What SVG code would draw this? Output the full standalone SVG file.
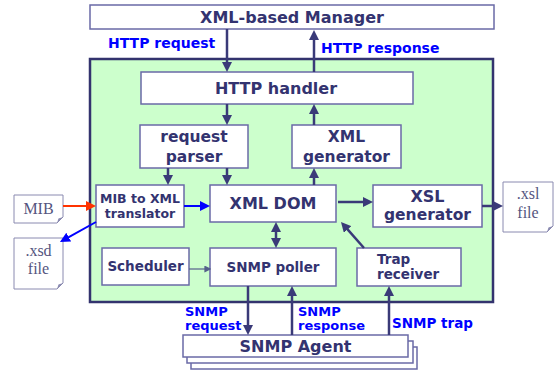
<svg xmlns="http://www.w3.org/2000/svg" width="555" height="370" viewBox="0 0 555 370">
<style>
  .box{fill:#ffffff;stroke:#6a6aa6;stroke-width:1.5}
  .t{font-family:"DejaVu Sans","Liberation Sans",sans-serif;font-weight:bold;fill:#333370;text-anchor:middle}
  .ts{font-family:"DejaVu Sans","Liberation Sans",sans-serif;font-weight:bold;fill:#333370;text-anchor:start}
  .lbl{font-family:"DejaVu Sans","Liberation Sans",sans-serif;font-weight:bold;fill:#0000ff}
  .file{fill:#ffffff;stroke:#8a8ab0;stroke-width:1}
  .ft{font-family:"Liberation Serif","DejaVu Serif",serif;font-size:16px;fill:#555580;text-anchor:middle}
  .a{stroke:#3a3a78;stroke-width:2.5;fill:none;marker-end:url(#ah)}
</style>
<defs>
  <marker id="ah" viewBox="0 0 10 10" markerUnits="userSpaceOnUse" markerWidth="10" markerHeight="10" refX="3" refY="5" orient="auto-start-reverse">
    <path d="M0,0 L10,5 L0,10 z" fill="#3a3a78"/>
  </marker>
  <marker id="ahs" viewBox="0 0 10 10" markerUnits="userSpaceOnUse" markerWidth="7" markerHeight="7" refX="8" refY="5" orient="auto">
    <path d="M0,0 L10,5 L0,10 z" fill="#55608a"/>
  </marker>
  <marker id="ahb" viewBox="0 0 10 10" markerUnits="userSpaceOnUse" markerWidth="10" markerHeight="10" refX="3" refY="5" orient="auto">
    <path d="M0,0 L10,5 L0,10 z" fill="#0000ff"/>
  </marker>
  <marker id="ahr" viewBox="0 0 10 10" markerUnits="userSpaceOnUse" markerWidth="10" markerHeight="10" refX="3" refY="5" orient="auto">
    <path d="M0,0 L10,5 L0,10 z" fill="#ff3300"/>
  </marker>
</defs>

<rect width="555" height="370" fill="#ffffff"/>

<g id="system">
  <rect x="90" y="59" width="403" height="243" fill="#ccffcc" stroke="#33336e" stroke-width="2.5"/>
</g>

<g id="manager">
  <rect class="box" x="90" y="5" width="404" height="24" stroke="#8a8ab0"/>
  <text class="t" x="292" y="23" font-size="16">XML-based Manager</text>
</g>

<g id="http-handler">
  <rect class="box" x="141" y="72" width="272" height="32"/>
  <text class="t" x="276" y="94" font-size="16">HTTP handler</text>
</g>

<g id="request-parser">
  <rect class="box" x="140" y="125" width="108" height="43"/>
  <text class="t" x="194" y="142" font-size="15.5">request</text>
  <text class="t" x="194" y="162" font-size="15.5">parser</text>
</g>

<g id="xml-generator">
  <rect class="box" x="292" y="125" width="109" height="43"/>
  <text class="t" x="346.5" y="142" font-size="15.5">XML</text>
  <text class="t" x="346.5" y="162" font-size="15.5">generator</text>
</g>

<g id="mib-translator">
  <rect class="box" x="96" y="185" width="88" height="42" fill="#fccac2"/>
  <text class="t" x="140" y="203" font-size="12.5">MIB to XML</text>
  <text class="t" x="140" y="218" font-size="12.5">translator</text>
</g>

<g id="xml-dom">
  <rect class="box" x="210" y="185" width="126" height="37" fill="#fcc8fc"/>
  <text class="t" x="273" y="208.5" font-size="16">XML DOM</text>
</g>

<g id="xsl-generator">
  <rect class="box" x="373" y="185" width="109" height="42"/>
  <text class="t" x="427.5" y="201.5" font-size="16">XSL</text>
  <text class="t" x="427.5" y="220" font-size="15.5">generator</text>
</g>

<g id="scheduler">
  <rect class="box" x="102" y="248" width="87" height="37"/>
  <text class="t" x="145.5" y="271" font-size="13.5">Scheduler</text>
</g>

<g id="snmp-poller">
  <rect class="box" x="210" y="248" width="126" height="38"/>
  <text class="t" x="273" y="272" font-size="13.5">SNMP poller</text>
</g>

<g id="trap-receiver">
  <rect class="box" x="357" y="248" width="104" height="38"/>
  <text class="ts" x="377" y="264" font-size="13.5">Trap</text>
  <text class="ts" x="377" y="279" font-size="13.5">receiver</text>
</g>

<g id="snmp-agent">
  <rect class="box" x="191" y="347" width="226" height="22"/>
  <rect class="box" x="187" y="341" width="226" height="22"/>
  <rect class="box" x="183" y="335" width="225" height="22"/>
  <text class="t" x="295.5" y="352" font-size="16">SNMP Agent</text>
</g>

<g id="mib-file">
  <path class="file" d="M14,195 H63 V217 L57,223 H14 Z"/>
  <path d="M57,223 L58.5,218.5 L63,217 Z" fill="#8a8ab0"/>
  <text class="ft" x="38.5" y="214">MIB</text>
</g>

<g id="xsd-file">
  <path class="file" d="M14,238 H63 V283 L57,289 H14 Z"/>
  <path d="M57,289 L58.5,284.5 L63,283 Z" fill="#8a8ab0"/>
  <text class="ft" x="38.5" y="256">.xsd</text>
  <text class="ft" x="38.5" y="274">file</text>
</g>

<g id="xsl-file">
  <path class="file" d="M503,182 H553 V226 L547,232 H503 Z"/>
  <path d="M547,232 L548.5,227.5 L553,226 Z" fill="#8a8ab0"/>
  <text class="ft" x="528" y="199">.xsl</text>
  <text class="ft" x="528" y="218">file</text>
</g>

<g id="connectors">
  <line class="a" x1="227" y1="29" x2="227" y2="65"/>
  <line class="a" x1="314" y1="72" x2="314" y2="37"/>
  <line class="a" x1="227" y1="104" x2="227" y2="118"/>
  <line class="a" x1="314" y1="125" x2="314" y2="111"/>
  <line class="a" x1="168" y1="168" x2="168" y2="178"/>
  <line class="a" x1="227" y1="168" x2="227" y2="178"/>
  <line class="a" x1="314" y1="185" x2="314" y2="175"/>
  <line class="a" x1="338" y1="202" x2="366" y2="202"/>
  <line class="a" x1="482" y1="206" x2="496" y2="206"/>
  <line class="a" x1="364" y1="248" x2="345.6" y2="227.2"/>
  <line class="a" x1="276" y1="229" x2="276" y2="241" marker-start="url(#ah)"/>
  <line x1="189" y1="269" x2="210" y2="269" stroke="#55608a" stroke-width="1.2" marker-end="url(#ahs)"/>
  <line class="a" x1="248" y1="286" x2="248" y2="328"/>
  <line class="a" x1="292" y1="335" x2="292" y2="293"/>
  <line class="a" x1="389" y1="335" x2="389" y2="293"/>
  <line x1="63" y1="206" x2="89" y2="206" stroke="#ff3300" stroke-width="2" marker-end="url(#ahr)"/>
  <line x1="96" y1="222" x2="66.1" y2="238.6" stroke="#0000ff" stroke-width="2" marker-end="url(#ahb)"/>
  <line x1="184" y1="206" x2="203" y2="206" stroke="#0000ff" stroke-width="2" marker-end="url(#ahb)"/>
</g>

<g id="labels">
  <text class="lbl" x="108" y="48" font-size="14">HTTP request</text>
  <text class="lbl" x="321" y="53" font-size="14">HTTP response</text>
  <text class="lbl" x="185" y="315.5" font-size="13">SNMP</text>
  <text class="lbl" x="185" y="330" font-size="13">request</text>
  <text class="lbl" x="298" y="315.5" font-size="13">SNMP</text>
  <text class="lbl" x="298" y="330" font-size="13">response</text>
  <text class="lbl" x="392" y="328" font-size="13.5">SNMP trap</text>
</g>
</svg>
